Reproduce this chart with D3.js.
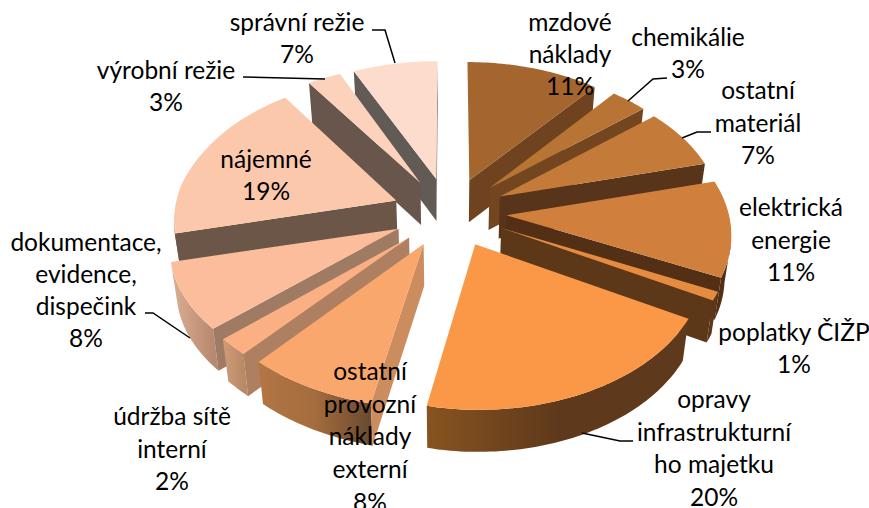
<!DOCTYPE html>
<html>
<head>
<meta charset="utf-8">
<script src="https://cdn.jsdelivr.net/npm/d3@7"></script>
<style>
  html, body { margin: 0; background: #fff; }
  text { font-family: Lato, "Open Sans", sans-serif; font-size: 24.5px; fill: #000; }
</style>
</head>
<body>
<svg id="chart" width="869" height="508"></svg>
<script>
// ====== Data ======
const categories = ["mzdové náklady", "chemikálie", "ostatní materiál", "elektrická energie",
  "poplatky ČIŽP", "opravy infrastrukturní ho majetku", "ostatní provozní náklady externí",
  "údržba sítě interní", "dokumentace, evidence, dispečink", "nájemné", "výrobní režie", "správní režie"];
const values = [11, 3, 7, 11, 1, 20, 8, 2, 8, 19, 3, 7];

// Barvy: vršek, radiální stěna, plášť (zleva doprava)
const topColors = ["#a5652e", "#b87434", "#c47b39", "#d0803c", "#e58c40", "#fb9847",
  "#f9a76c", "#fbb083", "#fbbd9b", "#fcc8ab", "#fdd2bc", "#fedccd"];
const wallColors = ["#6f431f", "#74461f", "#58341a", "#532f15", "#5c3819", "#5f3a1c",
  "#cc8d5e", "#ae7f60", "#a07b64", "#6b5648", "#68554b", "#625a54"];
const rimColors = [
  ["#6f431f", "#6f431f"], ["#74461f", "#74461f"], ["#58341a", "#58341a"], ["#532f15", "#4f2d14"],
  ["#5c3819", "#5c3819"], ["#875420", "#5e391b", "#5e391b"], ["#b27644", "#a56c3d", "#6a4a30"],
  ["#d09b77", "#b88a68"], ["#dcae94", "#b78a70"], ["#6b5648", "#6b5648"], ["#68554b", "#68554b"], ["#625a54", "#625a54"],
];

// Popisky: řádky, střed x, y prvního řádku
const labelLines = [
  ["mzdové", "náklady", "11%"], ["chemikálie", "3%"], ["ostatní", "materiál", "7%"],
  ["elektrická", "energie", "11%"], ["poplatky ČIŽP", "1%"], ["opravy", "infrastrukturní", "ho majetku", "20%"],
  ["ostatní", "provozní", "náklady", "externí", "8%"], ["údržba sítě", "interní", "2%"],
  ["dokumentace,", "evidence,", "dispečink", "8%"], ["nájemné", "19%"], ["výrobní režie", "3%"], ["správní režie", "7%"],
];
const labelX = [570, 688, 758, 791, 794, 714, 370, 172, 86, 266, 166, 297];
const labelY = [31, 46, 99, 216, 341, 408, 380, 425, 251, 168, 79, 31];
const lineStep = [32, 32, 32.5, 32.5, 32, 32.5, 32.7, 32.5, 32, 32, 32, 32];

// Vodicí čáry
const leaders = [
  [[395, 63], [385, 30], [372, 30]],
  [[243, 77], [325, 79]],
  [[628, 101], [653, 79], [667, 78]],
  [[682, 138], [697, 132], [711, 132]],
  [[190, 338], [153, 313], [145, 313]],
  [[582, 433], [620, 441], [633, 441]],
];

// ====== Projekce ======
const cx = 451, cy = 212;
const radiusX = 222, radiusY = 138.6;  // poloměr na obrazovce při v = 0
const persp = 0.115;                   // perspektiva, vzadu menší
const explode = 0.25;
const depth = 42;
const rimFrom = 1.75;                  // odkud je plášť vidět (rad), ne přesně od 90°
const converge = 0.024;                // svislé hrany se směrem dolů sbíhají

const clamp01 = t => Math.max(0, Math.min(1, t));

function project(u, v, z) {
  const k = 1 / (1 + persp * v);
  let x = cx + radiusX * u * k * (1 - converge * z / depth);
  let y = cy - radiusY * v * k + z;
  // levá polovina je v originále trochu posunutá, vpředu víc
  if (u < 0) {
    const front = Math.max(0, -v);
    const backLeft = clamp01((-u - 0.5) / 0.2) * clamp01((v - 0.2) / 0.3);
    x += -3 * Math.min(1, -u / 0.05) + 4 * u * front + 3 * backLeft;
    y += 8 * u * front - 2 * backLeft;
  }
  return [x, y];
}

const svg = d3.select("#chart");
const defs = svg.append("defs");
const line = d3.line();

const slices = d3.pie().sort(null).value(d => d)(values).map(d => {
  const mid = (d.startAngle + d.endAngle) / 2;
  return { ...d, mid, ox: explode * Math.sin(mid), oy: explode * Math.cos(mid) };
});

function rimPoint(s, a, z) {
  return project(s.ox + Math.sin(a), s.oy + Math.cos(a), z);
}
function apex(s, z) {
  return project(s.ox, s.oy, z);
}
function arcPoints(s, a0, a1, z) {
  const n = Math.max(2, Math.ceil((a1 - a0) / 0.02));
  return d3.range(n + 1).map(i => rimPoint(s, a0 + (a1 - a0) * i / n, z));
}

// ====== Kreslení odzadu dopředu ======
const chart = svg.append("g");
const order = slices.slice().sort((a, b) => d3.descending(a.oy, b.oy));

order.forEach(s => {
  const g = chart.append("g");
  const i = s.index;

  // plášť, jen přední část
  const a0 = Math.max(s.startAngle, rimFrom);
  const a1 = Math.min(s.endAngle, Math.PI * 2 - rimFrom);
  if (a1 > a0) {
    const upper = arcPoints(s, a0, a1, 0);
    const lower = arcPoints(s, a0, a1, depth).reverse();
    const xs = d3.extent(upper, p => p[0]);
    const grad = defs.append("linearGradient")
      .attr("id", `rim-${i}`)
      .attr("gradientUnits", "userSpaceOnUse")
      .attr("x1", xs[0]).attr("x2", xs[1]).attr("y1", 0).attr("y2", 0);
    rimColors[i].forEach((c, j, arr) => {
      grad.append("stop").attr("offset", j / (arr.length - 1)).attr("stop-color", c);
    });
    g.append("path")
      .attr("d", line(upper.concat(lower)) + "Z")
      .attr("fill", `url(#rim-${i})`);
  }

  // radiální stěny
  [s.startAngle, s.endAngle].forEach((a, j) => {
    const visible = j === 0 ? Math.sin(a) < 0 : Math.sin(a) > 0;
    if (!visible) return;
    g.append("path")
      .attr("d", line([apex(s, 0), rimPoint(s, a, 0), rimPoint(s, a, depth), apex(s, depth)]) + "Z")
      .attr("fill", wallColors[i]);
  });

  // vršek
  g.append("path")
    .attr("d", line([apex(s, 0)].concat(arcPoints(s, s.startAngle, s.endAngle, 0))) + "Z")
    .attr("fill", topColors[i]);
});

// ====== Vodicí čáry a popisky ======
svg.append("g").selectAll("path")
  .data(leaders)
  .join("path")
  .attr("d", d => line(d))
  .attr("fill", "none")
  .attr("stroke", "#000")
  .attr("stroke-width", 1.5);

const labels = svg.append("g").selectAll("text")
  .data(labelLines)
  .join("text")
  .attr("text-anchor", "middle");

labels.selectAll("tspan")
  .data((d, i) => d.map((t, j) => ({ t, x: labelX[i], y: labelY[i] + j * lineStep[i] })))
  .join("tspan")
  .attr("x", d => d.x)
  .attr("y", d => d.y)
  .text(d => d.t);

labels.append("title").text((d, i) => categories[i]);
</script>
</body>
</html>
